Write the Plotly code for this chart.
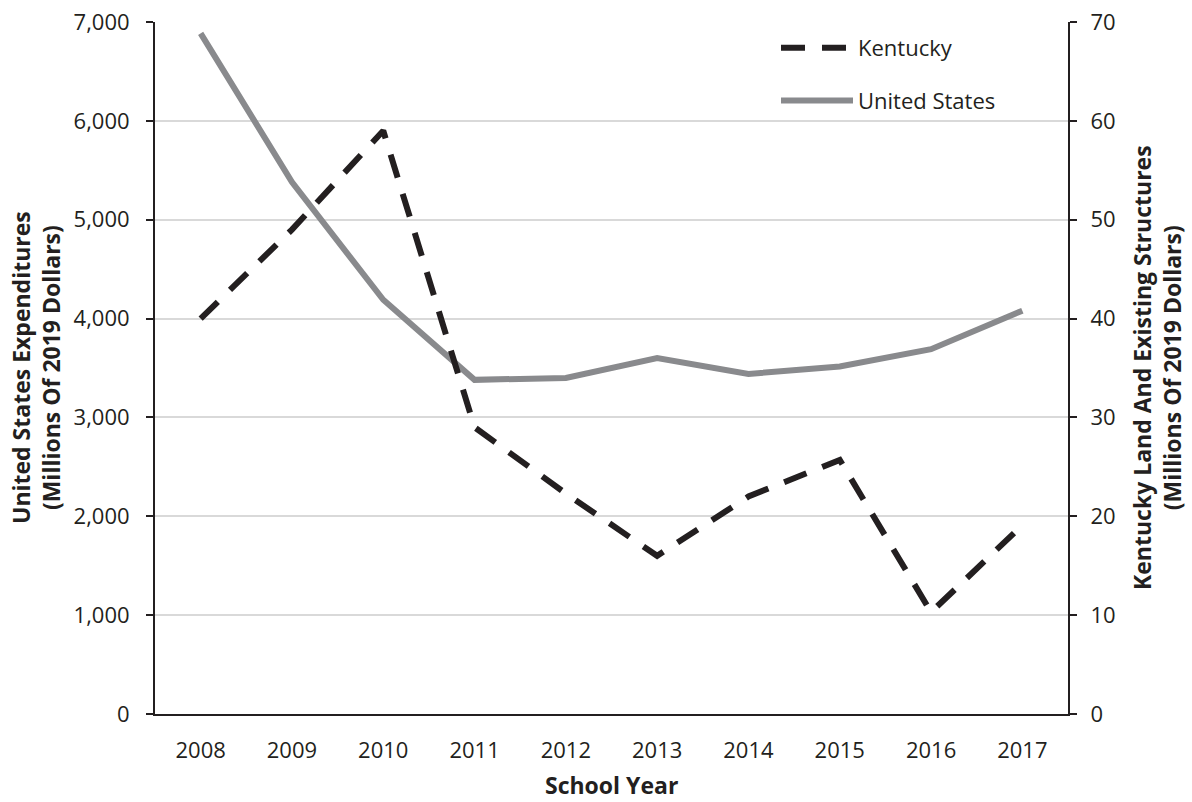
import plotly.graph_objects as go

years = ["2008", "2009", "2010", "2011", "2012", "2013", "2014", "2015", "2016", "2017"]
us_expenditures = [6885, 5380, 4190, 3380, 3400, 3600, 3440, 3515, 3690, 4080]
kentucky_land = [40.0, 49.0, 59.0, 29.0, 22.3, 16.0, 22.0, 25.7, 10.3, 19.1]

left_ticks = [0, 1000, 2000, 3000, 4000, 5000, 6000, 7000]
right_ticks = [0, 10, 20, 30, 40, 50, 60, 70]

FONT = "Open Sans"
DARK = "#231f20"
GREY = "#898a8d"

fig = go.Figure()
fig.add_trace(go.Scatter(
    x=years, y=kentucky_land, name="Kentucky", yaxis="y2", mode="lines",
    line=dict(color=DARK, width=6, dash="24px,17px"), legendgroup="ky",
))
fig.add_trace(go.Scatter(
    x=years, y=us_expenditures, name="United States", yaxis="y", mode="lines",
    line=dict(color=GREY, width=6), legendgroup="us",
))

fig.update_layout(
    width=1192, height=802,
    margin=dict(l=155, r=124, t=22, b=88, autoexpand=False),
    paper_bgcolor="white", plot_bgcolor="white",
    font=dict(family=FONT, size=22, color=DARK),
    showlegend=True,
    legend=dict(
        x=(776 - 155) / 913, y=1.0 - 5 / 692, xanchor="left", yanchor="top",
        bgcolor="rgba(0,0,0,0)", borderwidth=0,
        font=dict(family=FONT, size=22, color=DARK),
        tracegroupgap=21, itemwidth=72, traceorder="grouped",
    ),
    xaxis=dict(
        type="category", range=[-0.5, 9.5], automargin=False,
        showline=True, linecolor=DARK, linewidth=2,
        showgrid=False, ticks="", ticklabelstandoff=16,
        tickfont=dict(family=FONT, size=22, color=DARK),
        zeroline=False,
    ),
    yaxis=dict(
        range=[0, 7000], tickvals=left_ticks, tickformat=",", automargin=False,
        showline=True, linecolor=DARK, linewidth=2,
        ticks="outside", ticklen=7, tickwidth=2, tickcolor=DARK,
        showgrid=True, gridcolor="#d9d9d9", gridwidth=2,
        zeroline=False, ticklabelstandoff=12,
        tickfont=dict(family=FONT, size=22, color=DARK),
    ),
    yaxis2=dict(
        range=[0, 70], tickvals=right_ticks, overlaying="y", side="right",
        automargin=False,
        showline=True, linecolor=DARK, linewidth=2,
        ticks="outside", ticklen=7, tickwidth=2, tickcolor=DARK,
        showgrid=False, zeroline=False, ticklabelstandoff=9,
        tickfont=dict(family=FONT, size=22, color=DARK),
    ),
    annotations=[
        dict(text="<b>School Year</b>", xref="paper", yref="paper",
             x=0.5, y=(714 - 785) / 692, xanchor="center", yanchor="middle",
             showarrow=False, font=dict(family=FONT, size=23, color=DARK)),
        dict(text="<b>United States Expenditures<br>(Millions Of 2019 Dollars)</b>",
             xref="paper", yref="paper", x=(36 - 155) / 913, y=0.5,
             xanchor="center", yanchor="middle", textangle=-90, showarrow=False,
             font=dict(family=FONT, size=23, color=DARK)),
        dict(text="<b>Kentucky Land And Existing Structures<br>(Millions Of 2019 Dollars)</b>",
             xref="paper", yref="paper", x=(1157 - 155) / 913, y=0.5,
             xanchor="center", yanchor="middle", textangle=-90, showarrow=False,
             font=dict(family=FONT, size=23, color=DARK)),
    ],
)

fig.write_html(
    "out.html",
    config={"displayModeBar": False},
    post_script="document.body.style.margin='0';document.body.style.overflow='hidden';",
)
